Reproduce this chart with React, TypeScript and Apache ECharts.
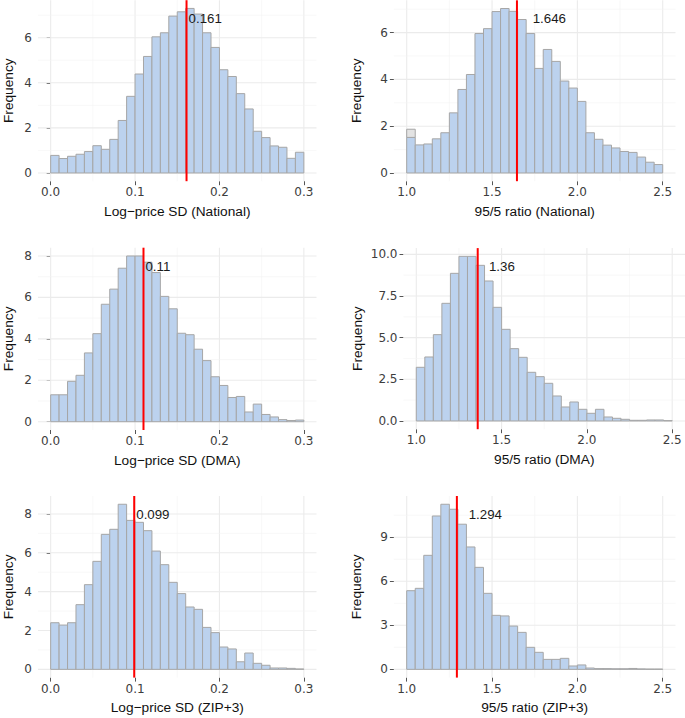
import React, { useEffect, useRef } from "react";
import * as echarts from "echarts";

// ---- data (bin counts) ----
const sdBinStart = 0.0;
const sdBinWidth = 0.01;
const ratioBinStart = 1.0;
const ratioBinWidth = 0.05;

const nationalSD = [0.78, 0.64, 0.74, 0.83, 0.95, 1.21, 1.05, 1.49, 2.33, 3.4, 4.39, 5.17, 6.04, 6.22, 6.96, 7.15, 7.3, 7.05, 6.22, 5.57, 4.58, 4.28, 3.52, 2.84, 1.85, 1.57, 1.2, 1.14, 0.65, 0.92];
const nationalRatio = [1.52, 1.2, 1.24, 1.46, 1.72, 2.57, 3.57, 4.21, 5.96, 6.17, 6.9, 7.03, 6.91, 6.56, 5.96, 4.47, 5.28, 4.77, 3.93, 3.63, 3.06, 1.72, 1.44, 1.19, 1.07, 0.92, 0.88, 0.68, 0.46, 0.36];
const nationalRatioGrey = [0.35, 0, 0, 0, 0, 0, 0, 0, 0, 0, 0, 0, 0, 0, 0, 0, 0, 0, 0, 0, 0, 0, 0, 0, 0, 0, 0, 0, 0, 0];
const dmaSD = [1.3, 1.3, 1.95, 2.24, 3.32, 4.25, 5.67, 6.4, 7.41, 8.0, 8.0, 7.7, 7.2, 6.05, 5.45, 4.27, 4.2, 3.5, 2.95, 2.17, 1.75, 1.17, 1.22, 0.47, 0.85, 0.35, 0.23, 0.1, 0.06, 0.08];
const dmaRatio = [3.22, 3.84, 5.18, 7.06, 8.86, 9.88, 9.88, 9.34, 8.4, 6.82, 5.5, 4.34, 3.82, 2.92, 2.66, 2.26, 1.5, 0.84, 1.14, 0.7, 0.46, 0.7, 0.24, 0.16, 0.1, 0.04, 0.04, 0.06, 0.06, 0.02];
const zipSD = [2.4, 2.28, 2.4, 3.33, 4.36, 5.56, 6.95, 7.21, 8.5, 7.67, 7.57, 7.14, 6.09, 5.39, 4.48, 3.9, 3.21, 3.09, 2.16, 1.89, 1.15, 1.05, 0.39, 0.84, 0.31, 0.21, 0.07, 0.07, 0.05, 0.02];
const zipRatio = [5.36, 5.52, 7.77, 10.45, 11.25, 10.91, 9.89, 8.34, 6.95, 5.18, 3.68, 3.64, 2.95, 2.52, 1.5, 1.16, 0.68, 0.68, 0.75, 0.23, 0.3, 0.09, 0.05, 0.05, 0.04, 0.04, 0.06, 0.03, 0.02, 0.02];

const means = [0.161, 1.646, 0.11, 1.36, 0.099, 1.294];
const meanLabels = ["0.161", "1.646", "0.11", "1.36", "0.099", "1.294"];
const meanLabelX = [0.1634, 1.738, 0.1123, 1.426, 0.1014, 1.363];
const meanLabelY = [6.87, 6.61, 7.49, 9.26, 7.98, 10.57];

const xTitles = [
  "Log\u2212price SD (National)",
  "95/5 ratio (National)",
  "Log\u2212price SD (DMA)",
  "95/5 ratio (DMA)",
  "Log\u2212price SD (ZIP+3)",
  "95/5 ratio (ZIP+3)",
];

const sdTicks = [0, 0.1, 0.2, 0.3];
const sdMinor = [0.05, 0.15, 0.25];
const ratioTicks = [1.0, 1.5, 2.0, 2.5];
const ratioMinor = [1.25, 1.75, 2.25];

const yTicksList = [
  [0, 2, 4, 6],
  [0, 2, 4, 6],
  [0, 2, 4, 6, 8],
  [0, 2.5, 5, 7.5, 10],
  [0, 2, 4, 6, 8],
  [0, 3, 6, 9],
];
const yMinorList = [
  [1, 3, 5, 7],
  [1, 3, 5, 7],
  [1, 3, 5, 7],
  [1.25, 3.75, 6.25, 8.75],
  [1, 3, 5, 7],
  [1.5, 4.5, 7.5, 10.5],
];
const yDigits = [0, 0, 0, 1, 0, 0];

const countsList = [nationalSD, nationalRatio, dmaSD, dmaRatio, zipSD, zipRatio];
const greyList = [null, nationalRatioGrey, null, null, null, null];

// ---- layout (pixels) ----
const layouts = [
  { left: 34.5, top: 0.2, width: 282, height: 181, yGap: 23 },
  { left: 393.9, top: 0.3, width: 281.6, height: 180.9, yGap: 30 },
  { left: 34.5, top: 247.7, width: 282, height: 182.3, yGap: 23 },
  { left: 403.5, top: 248.1, width: 281.6, height: 181.1, yGap: 39.5 },
  { left: 34.5, top: 496, width: 282, height: 181.6, yGap: 23 },
  { left: 393.9, top: 496, width: 281.6, height: 181.6, yGap: 30 },
];

const BAR_FILL = "#BCD2EE";
const BAR_STROKE = "#a6a6a6";
const GREY_FILL = "#e3e3e3";
const TICK_FONT = "DejaVu Sans";
const TITLE_FONT = "Liberation Sans";

function buildOption() {
  const grid: any[] = [];
  const xAxis: any[] = [];
  const yAxis: any[] = [];
  const series: any[] = [];

  countsList.forEach((counts, i) => {
    const isSD = i % 2 === 0;
    const binStart = isSD ? sdBinStart : ratioBinStart;
    const binWidth = isSD ? sdBinWidth : ratioBinWidth;
    const xLo = binStart;
    const xHi = binStart + binWidth * counts.length;
    const xPad = (xHi - xLo) * 0.05;
    const grey = greyList[i];
    const tops = counts.map((c, k) => c + (grey ? grey[k] : 0));
    const yMax = Math.max(...tops);
    const yLo = -0.05 * yMax;
    const yHi = 1.05 * yMax;
    const L = layouts[i];
    const xTicks = isSD ? sdTicks : ratioTicks;
    const xMinor = isSD ? sdMinor : ratioMinor;

    grid.push({ left: L.left, top: L.top, width: L.width, height: L.height, containLabel: false });

    xAxis.push({
      gridIndex: i,
      type: "value",
      min: xLo - xPad,
      max: xHi + xPad,
      name: xTitles[i],
      nameLocation: "middle",
      nameGap: 23,
      nameTextStyle: { fontFamily: TITLE_FONT, fontSize: 13.7, color: "#111" },
      axisLine: { show: false, onZero: false },
      axisTick: { show: true, customValues: xTicks, length: 4, lineStyle: { color: "#555", width: 1 } },
      axisLabel: {
        show: true,
        customValues: xTicks,
        margin: 5,
        fontFamily: TICK_FONT,
        fontSize: 12,
        color: "#3d3d3d",
        formatter: (v: number) => v.toFixed(1),
      },
      splitLine: { show: false },
    });

    yAxis.push({
      gridIndex: i,
      type: "value",
      min: yLo,
      max: yHi,
      name: "Frequency",
      nameLocation: "middle",
      nameGap: L.yGap,
      nameTextStyle: { fontFamily: TITLE_FONT, fontSize: 13.7, color: "#111" },
      axisLine: { show: false },
      axisTick: { show: true, customValues: yTicksList[i], length: 4, lineStyle: { color: "#555", width: 1 } },
      axisLabel: {
        show: true,
        customValues: yTicksList[i],
        margin: 6,
        fontFamily: TICK_FONT,
        fontSize: 12,
        color: "#3d3d3d",
        formatter: (v: number) => v.toFixed(yDigits[i]),
      },
      splitLine: { show: false },
    });

    // grid lines
    const gridData: number[][] = [];
    xTicks.forEach((v) => gridData.push([v, 0, 1]));
    xMinor.forEach((v) => gridData.push([v, 0, 0]));
    yTicksList[i].forEach((v) => gridData.push([v, 1, 1]));
    yMinorList[i].forEach((v) => gridData.push([v, 1, 0]));
    series.push({
      type: "custom",
      xAxisIndex: i,
      yAxisIndex: i,
      silent: true,
      z: 1,
      data: gridData,
      encode: { x: 0, y: 0 },
      renderItem: (params: any, api: any) => {
        const v = api.value(0);
        const orient = api.value(1);
        const major = api.value(2) === 1;
        const cs = params.coordSys;
        const style = { stroke: major ? "#ebebeb" : "#f3f3f3", lineWidth: major ? 1.1 : 0.6 };
        if (orient === 0) {
          const px = api.coord([v, yLo])[0];
          return { type: "line", shape: { x1: px, y1: cs.y, x2: px, y2: cs.y + cs.height }, style };
        }
        const py = api.coord([xLo, v])[1];
        return { type: "line", shape: { x1: cs.x, y1: py, x2: cs.x + cs.width, y2: py }, style };
      },
    });

    // histogram bars
    const barData: number[][] = [];
    counts.forEach((c, k) => {
      const a = binStart + k * binWidth;
      barData.push([a, a + binWidth, 0, c, 0]);
      if (grey && grey[k] > 0) barData.push([a, a + binWidth, c, c + grey[k], 1]);
    });
    series.push({
      type: "custom",
      xAxisIndex: i,
      yAxisIndex: i,
      z: 2,
      data: barData,
      encode: { x: [0, 1], y: [2, 3] },
      renderItem: (params: any, api: any) => {
        const p0 = api.coord([api.value(0), api.value(3)]);
        const p1 = api.coord([api.value(1), api.value(2)]);
        const isGrey = api.value(4) === 1;
        return {
          type: "rect",
          shape: { x: p0[0], y: p0[1], width: p1[0] - p0[0], height: p1[1] - p0[1] },
          style: { fill: isGrey ? GREY_FILL : BAR_FILL, stroke: BAR_STROKE, lineWidth: 1 },
        };
      },
    });

    // mean line and label
    series.push({
      type: "custom",
      xAxisIndex: i,
      yAxisIndex: i,
      z: 3,
      data: [[means[i], meanLabelX[i], meanLabelY[i]]],
      encode: { x: [0, 1], y: 2 },
      renderItem: (params: any, api: any) => {
        const cs = params.coordSys;
        const px = api.coord([api.value(0), yLo])[0];
        const lp = api.coord([api.value(1), api.value(2)]);
        return {
          type: "group",
          children: [
            { type: "line", shape: { x1: px, y1: cs.y, x2: px, y2: cs.y + cs.height }, style: { stroke: "#ff0000", lineWidth: 2 } },
            {
              type: "text",
              x: lp[0],
              y: lp[1],
              style: {
                text: meanLabels[i],
                fill: "#1a1a1a",
                fontFamily: TITLE_FONT,
                fontSize: 13.3,
                align: "left",
                verticalAlign: "middle",
              },
            },
          ],
        };
      },
    });
  });

  return { animation: false, backgroundColor: "#ffffff", grid, xAxis, yAxis, series };
}

export default function App() {
  const ref = useRef<HTMLDivElement>(null);
  useEffect(() => {
    if (!ref.current) return;
    const chart = echarts.init(ref.current, undefined, { renderer: "svg" });
    chart.setOption(buildOption() as any);
    return () => chart.dispose();
  }, []);
  return (
    <div
      ref={ref}
      style={{ position: "absolute", left: 0, top: 0, width: 685, height: 718, background: "#fff" }}
    />
  );
}
